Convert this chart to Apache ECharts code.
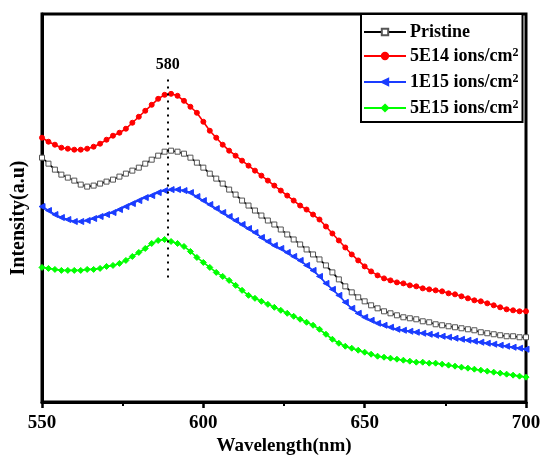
<!DOCTYPE html>
<html>
<head>
<meta charset="utf-8">
<script src="https://cdn.jsdelivr.net/npm/echarts@6/dist/echarts.min.js"></script>
<style>
  html, body { margin: 0; padding: 0; background: #fff; }
  #chart { width: 544px; height: 461px; }
</style>
</head>
<body>
<div id="chart"></div>
<script>
// Wavelength grid (nm), sampled every 2 nm
const wavelengths = [];
for (let w = 550; w <= 700; w += 2) wavelengths.push(w);

const xTicks = [550, 600, 650, 700];

// PL intensity (a.u.) for each sample
const pristine = [
  245,239,233,228,225,222,218,216,217,219,
  221,223,226,229,232,235,239,243,247,251,
  252,251,249,245,240,235,229,224,219,213,
  208,202,197,192,187,182,178,173,168,163,
  158,153,148,143,137,130,123,116,110,105,
  101,97,94,91,89,87,85,84,83,81,
  80,78,77,76,75,74,73,72,70,69,
  68,67,66,66,65,65
];
const dose5E14 = [
  265,261,258,255,254,253,253,254,256,259,
  263,267,270,274,280,286,292,298,304,308,
  309,307,302,296,290,281,272,265,258,252,
  247,242,237,232,227,222,217,212,207,202,
  197,193,188,183,176,169,162,155,148,142,
  136,131,127,124,122,120,119,117,116,114,
  113,112,111,109,108,106,104,102,101,99,
  97,95,93,92,91,91
];
const dose1E15 = [
  196,192,188,185,183,181,181,182,184,186,
  188,190,193,196,199,202,205,207,210,212,
  213,213,212,210,206,202,198,194,190,186,
  182,178,174,170,165,161,157,154,150,146,
  142,137,132,126,119,113,107,100,94,89,
  85,82,79,77,75,73,72,71,70,69,
  68,67,66,65,64,63,62,61,60,59,
  58,57,56,55,54,53
];
const dose5E15 = [
  135,134,133,132,132,132,132,133,133,134,
  136,137,139,142,146,150,154,159,162,163,
  161,159,156,151,145,140,135,130,126,122,
  117,112,107,104,101,98,95,92,89,86,
  83,80,77,73,68,63,59,56,54,52,
  50,48,46,45,44,43,42,41,40,40,
  39,39,38,37,36,35,34,33,32,31,
  30,29,28,27,26,25
];

const seriesNames = ['Pristine', '5E14 ions/cm2', '1E15 ions/cm2', '5E15 ions/cm2'];

// Peak marker: annotated position and its label text
const peakPosition = 589;
const peakLabel = '580';
const peakSpan = [125, 328];

const FONT = '"Liberation Serif", "Times New Roman", serif';

function pairs(arr) {
  return arr.map((v, i) => [wavelengths[i], v]);
}

const chart = echarts.init(document.getElementById('chart'), null, { renderer: 'canvas' });

const baseLine = (name, data, color, symbol, size, extra) => Object.assign({
  name: name,
  type: 'line',
  data: pairs(data),
  symbol: symbol,
  symbolSize: size,
  showAllSymbol: true,
  smooth: false,
  lineStyle: { color: color, width: 1.6 },
  itemStyle: { color: color, borderColor: color, borderWidth: 1 },
  emphasis: { disabled: true },
  z: 3
}, extra || {});

chart.setOption({
  animation: false,
  backgroundColor: '#ffffff',
  grid: {
    left: 42, right: 18, top: 14, bottom: 58,
    show: true, borderColor: '#000', borderWidth: 3, backgroundColor: 'transparent'
  },
  legend: {
    orient: 'vertical',
    left: 361,
    top: 14,
    itemWidth: 42,
    itemHeight: 8,
    itemGap: 6,
    padding: [9, 4, 3, 2],
    borderColor: '#000',
    borderWidth: 2,
    backgroundColor: '#fff',
    data: seriesNames,
    formatter: function (name) {
      if (name === 'Pristine') return name;
      return name.slice(0, -1) + '{sup|2}';
    },
    textStyle: {
      fontFamily: FONT, fontWeight: 'bold', fontSize: 18, color: '#000',
      lineHeight: 18,
      padding: [0, 0, 0, -1],
      rich: {
        sup: { fontFamily: FONT, fontWeight: 'bold', fontSize: 12, verticalAlign: 'top', lineHeight: 18, padding: [0, 0, 8, 0], color: '#000' }
      }
    }
  },
  xAxis: {
    type: 'value',
    min: 550, max: 700, interval: 50,
    name: 'Wavelength(nm)',
    nameLocation: 'middle',
    nameGap: 30,
    nameTextStyle: { fontFamily: FONT, fontWeight: 'bold', fontSize: 19, color: '#000' },
    axisLine: { show: true, lineStyle: { color: '#000', width: 3 } },
    axisTick: { show: true, inside: false, length: 6, lineStyle: { color: '#000', width: 2.5 } },
    minorTick: { show: true, splitNumber: 2, length: 4, lineStyle: { color: '#000', width: 2 } },
    axisLabel: {
      fontFamily: FONT, fontWeight: 'bold', fontSize: 19, color: '#000', margin: 11,
      formatter: function (v) { return xTicks.indexOf(v) >= 0 ? String(v) : ''; }
    },
    splitLine: { show: false }
  },
  yAxis: {
    type: 'value',
    min: 0, max: 389,
    axisLine: { show: true, lineStyle: { color: '#000', width: 3 } },
    axisTick: { show: false },
    axisLabel: { show: false },
    splitLine: { show: false }
  },
  graphic: [{
    type: 'text',
    x: 19, y: 218,
    rotation: Math.PI / 2,
    style: {
      text: 'Intensity(a.u)',
      fontFamily: FONT, fontWeight: 'bold', fontSize: 20, fill: '#000',
      textAlign: 'center', textVerticalAlign: 'middle'
    }
  }],
  series: [
    baseLine(seriesNames[0], pristine, '#000000', 'rect', 5,
      { itemStyle: { color: '#ffffff', borderColor: '#555', borderWidth: 1 } }),
    baseLine(seriesNames[1], dose5E14, '#ff0000', 'circle', 5, {
      markLine: {
        silent: true,
        symbol: ['none', 'none'],
        lineStyle: { color: '#000', type: [2, 5], width: 2 },
        label: {
          show: true, position: 'end', formatter: peakLabel, distance: 2,
          fontFamily: FONT, fontWeight: 'bold', fontSize: 16, color: '#000'
        },
        data: [[
          { coord: [peakPosition, peakSpan[0]] },
          { coord: [peakPosition, peakSpan[1]] }
        ]]
      }
    }),
    baseLine(seriesNames[2], dose1E15, '#1a3cff', 'triangle', 6,
      { symbolRotate: 90 }),
    baseLine(seriesNames[3], dose5E15, '#00ff00', 'diamond', 6)
  ]
});
</script>
</body>
</html>
